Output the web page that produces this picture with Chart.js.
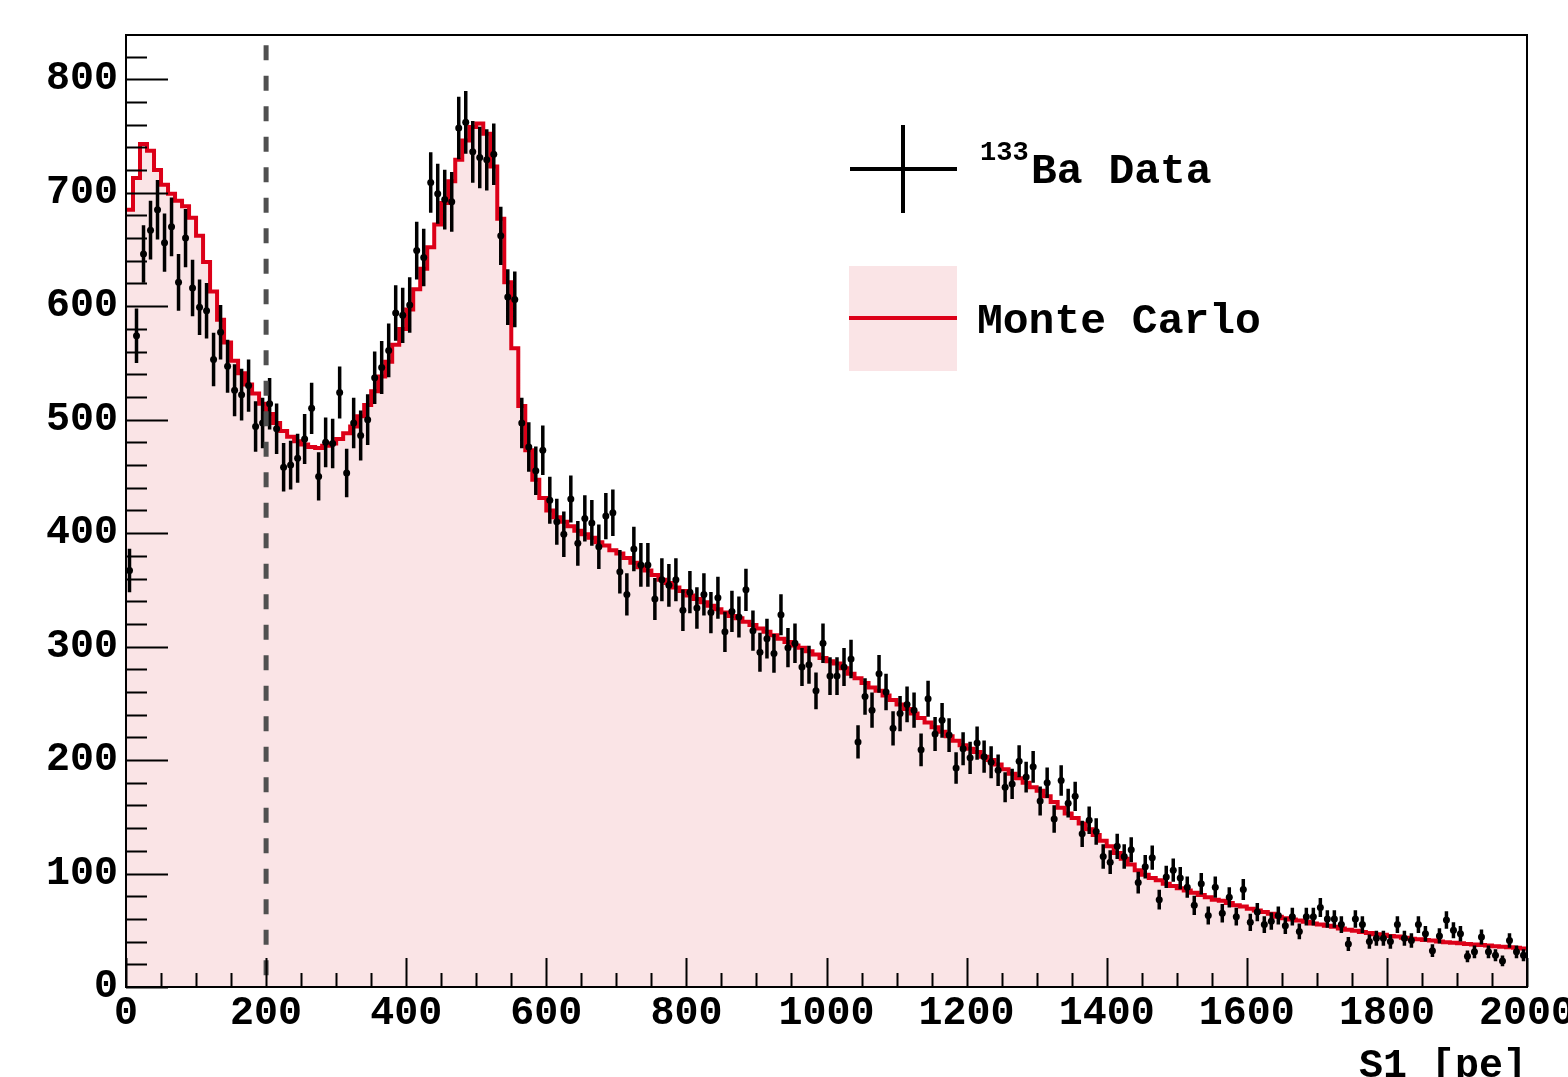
<!DOCTYPE html>
<html>
<head>
<meta charset="utf-8">
<script src="https://cdn.jsdelivr.net/npm/chart.js@4.4.1/dist/chart.umd.min.js"></script>
<style>
  body { margin: 0; background: #fff; }
  #plot { display: block; }
</style>
</head>
<body>
<canvas id="plot" width="1568" height="1077"></canvas>
<script>
// S1 spectrum, 200 bins of 10 pe from 0 to 2000
var binWidth = 10;
var xMin = 0, xMax = 2000;
var yMax = 839;
var cutValue = 200;
var legendLabels = ['Ba Data', 'Monte Carlo'];
var legendSup = '133';
var axisTitle = 'S1 [pe]';

// 133Ba data counts per bin
var dataCounts = [
  367, 574, 646, 667, 685, 656, 670, 621, 660, 616,
  599, 596, 553, 577, 547, 526, 522, 530, 494, 497,
  514, 492, 458, 460, 466, 483, 510, 450, 480, 479,
  524, 453, 497, 486, 500, 537, 546, 561, 594, 592,
  601, 649, 643, 709, 699, 694, 692, 757, 762, 736,
  731, 729, 734, 662, 608, 606, 497, 476, 455, 473,
  429, 410, 399, 430, 391, 413, 409, 388, 415, 418,
  366, 346, 386, 372, 372, 342, 359, 354, 359, 332,
  348, 334, 346, 330, 343, 313, 331, 326, 350, 314,
  295, 307, 294, 328, 299, 303, 282, 284, 261, 303,
  274, 274, 282, 289, 216, 256, 244, 276, 260, 228,
  241, 249, 244, 209, 254, 223, 235, 222, 193, 210,
  202, 215, 203, 198, 191, 176, 179, 199, 185, 194,
  164, 180, 148, 182, 162, 168, 135, 147, 137, 115,
  110, 124, 115, 121, 92, 106, 114, 77, 97, 103,
  96, 88, 72, 91, 63, 88, 65, 79, 62, 86,
  57, 66, 55, 58, 63, 54, 62, 49, 62, 62,
  70, 60, 60, 55, 38, 60, 55, 40, 43, 43,
  40, 55, 43, 41, 55, 47, 32, 45, 59, 50,
  47, 27, 31, 44, 31, 28, 23, 41, 31, 28
];

// Monte Carlo expectation per bin
var mcCounts = [
  685, 713, 743, 737, 720, 707, 699, 693, 688, 678,
  662, 639, 613, 588, 568, 552, 541, 531, 523, 514,
  505, 497, 490, 485, 481, 478, 476, 475, 477, 479,
  483, 488, 494, 503, 513, 525, 538, 551, 566, 580,
  597, 615, 633, 652, 672, 691, 710, 729, 746, 758,
  761, 752, 723, 677, 621, 563, 512, 473, 447, 431,
  420, 414, 410, 406, 402, 399, 396, 392, 389, 385,
  382, 378, 374, 370, 367, 363, 359, 356, 352, 349,
  345, 342, 339, 336, 333, 330, 327, 325, 322, 319,
  316, 313, 310, 307, 304, 301, 299, 296, 293, 290,
  287, 285, 281, 276, 272, 268, 264, 261, 257, 253,
  249, 245, 241, 237, 233, 229, 225, 221, 217, 213,
  210, 207, 203, 200, 196, 192, 188, 184, 180, 176,
  173, 168, 163, 158, 153, 149, 144, 139, 134, 129,
  124, 118, 113, 108, 103, 99, 96, 94, 91, 89,
  87, 85, 83, 81, 79, 77, 76, 74, 72, 71,
  69, 67.5, 66, 64.5, 62, 60.5, 59.5, 58.5, 57.5, 56,
  55, 54, 53, 51.5, 50.5, 49.5, 48.5, 47.5, 46.5, 46,
  45, 44.5, 43.5, 42.5, 42, 41.5, 41, 40, 39.5, 39,
  38.5, 38, 37.5, 37, 36.5, 36, 35.5, 35, 34.5, 34
];

var FONT = '"Liberation Mono", "DejaVu Sans Mono", monospace';
var mcRed = '#dc0018';
var mcFill = '#fae4e6';

// build points for the library
var dataPts = dataCounts.map(function(v, i) {
  return { x: i * binWidth + binWidth / 2, y: v };
});
var mcPts = mcCounts.map(function(v, i) {
  return { x: i * binWidth, y: v };
});
mcPts.push({ x: mcCounts.length * binWidth, y: mcCounts[mcCounts.length - 1] });

var errorBars = {
  id: 'errorBars',
  beforeDatasetDraw: function(chart, args) {
    if (args.index !== 0) return;
    var ctx = chart.ctx, xs = chart.scales.x, ys = chart.scales.y;
    ctx.save();
    ctx.strokeStyle = '#000';
    ctx.lineWidth = 3.5;
    ctx.beginPath();
    dataPts.forEach(function(p) {
      var e = Math.sqrt(p.y);
      var px = xs.getPixelForValue(p.x);
      ctx.moveTo(px, ys.getPixelForValue(p.y - e));
      ctx.lineTo(px, ys.getPixelForValue(p.y + e));
    });
    ctx.stroke();
    ctx.restore();
  }
};

var frameAndExtras = {
  id: 'frameAndExtras',
  afterDatasetsDraw: function(chart) {
    var ctx = chart.ctx, a = chart.chartArea;
    var xs = chart.scales.x, ys = chart.scales.y;
    ctx.save();

    // dashed cut line
    ctx.strokeStyle = '#505050';
    ctx.lineWidth = 5;
    ctx.setLineDash([15, 15.5]);
    ctx.beginPath();
    ctx.moveTo(xs.getPixelForValue(cutValue), ys.getPixelForValue(830));
    ctx.lineTo(xs.getPixelForValue(cutValue), ys.getPixelForValue(0));
    ctx.stroke();
    ctx.setLineDash([]);

    // ticks, ROOT style pointing inward
    ctx.strokeStyle = '#000';
    ctx.lineWidth = 2;
    ctx.beginPath();
    for (var v = 0; v <= yMax; v += 20) {
      var py = Math.round(ys.getPixelForValue(v)) + 0.5;
      var len = (v % 100 === 0) ? 42 : 21;
      ctx.moveTo(a.left, py);
      ctx.lineTo(a.left + len, py);
    }
    for (var u = xMin; u <= xMax; u += 50) {
      var px = Math.round(xs.getPixelForValue(u)) + 0.5;
      var l2 = (u % 200 === 0) ? 29 : 14;
      ctx.moveTo(px, a.bottom);
      ctx.lineTo(px, a.bottom - l2);
    }
    ctx.stroke();

    // frame
    ctx.lineWidth = 2;
    ctx.strokeRect(a.left, a.top, a.right - a.left, a.bottom - a.top);

    // legend
    ctx.lineWidth = 4;
    ctx.beginPath();
    ctx.moveTo(850, 169); ctx.lineTo(957, 169);
    ctx.moveTo(903, 125); ctx.lineTo(903, 213);
    ctx.stroke();

    ctx.fillStyle = mcFill;
    ctx.fillRect(849, 266, 108, 105);
    ctx.strokeStyle = mcRed;
    ctx.beginPath();
    ctx.moveTo(849, 318); ctx.lineTo(957, 318);
    ctx.stroke();

    ctx.fillStyle = '#000';
    ctx.textBaseline = 'alphabetic';
    ctx.textAlign = 'left';
    ctx.font = 'bold 27px ' + FONT;
    ctx.fillText(legendSup, 980, 160);
    ctx.font = 'bold 43px ' + FONT;
    ctx.fillText(legendLabels[0], 1031, 183);
    ctx.fillText(legendLabels[1], 977, 333);
    ctx.restore();
  }
};

var ctx = document.getElementById('plot').getContext('2d');
var chart = new Chart(ctx, {
  type: 'line',
  data: {
    datasets: [{
      label: 'data',
      data: dataPts,
      showLine: false,
      pointStyle: 'circle',
      pointRadius: 3.5,
      pointBackgroundColor: '#000',
      pointBorderColor: '#000',
      pointBorderWidth: 0
    }, {
      label: 'mc',
      data: mcPts,
      stepped: true,
      borderColor: mcRed,
      borderWidth: 4,
      backgroundColor: mcFill,
      fill: 'origin',
      pointRadius: 0,
      tension: 0
    }]
  },
  options: {
    responsive: false,
    animation: false,
    devicePixelRatio: 1,
    layout: { padding: { left: 0, right: 41, top: 35, bottom: 0 } },
    plugins: { legend: { display: false }, tooltip: { enabled: false } },
    scales: {
      x: {
        type: 'linear',
        min: xMin, max: xMax,
        grid: { display: false, drawTicks: false },
        border: { display: false },
        ticks: {
          stepSize: 200,
          includeBounds: false,
          maxRotation: 0,
          autoSkip: false,
          padding: 3,
          color: '#000',
          font: { family: FONT, size: 40, weight: 'bold' },
          callback: function(v) { return String(v); }
        },
        title: {
          display: true,
          text: axisTitle,
          align: 'end',
          color: '#000',
          padding: { top: 0, bottom: 0 },
          font: { family: FONT, size: 40, weight: 'bold', lineHeight: 0.5 }
        },
        afterFit: function(s) { s.height = 90; s.paddingLeft = 0; s.paddingRight = 0; }
      },
      y: {
        type: 'linear',
        min: 0, max: yMax,
        grid: { display: false, drawTicks: false },
        border: { display: false },
        ticks: {
          stepSize: 100,
          includeBounds: false,
          padding: 8,
          color: '#000',
          font: { family: FONT, size: 40, weight: 'bold' },
          callback: function(v) { return String(v); }
        },
        afterFit: function(s) { s.width = 126; s.paddingTop = 0; s.paddingBottom = 0; }
      }
    }
  },
  plugins: [errorBars, frameAndExtras]
});
</script>
</body>
</html>
